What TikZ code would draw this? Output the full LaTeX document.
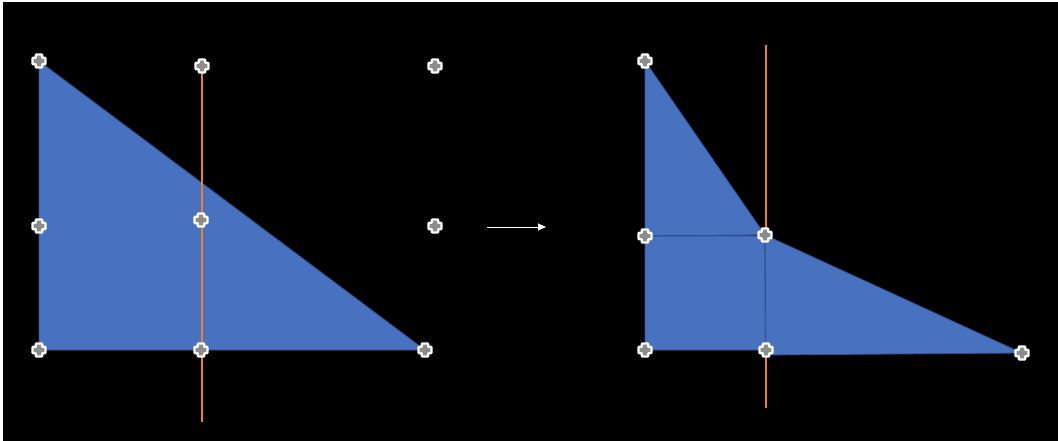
\documentclass[tikz,border=0pt]{standalone}
\usetikzlibrary{arrows.meta}
\definecolor{shapeblue}{RGB}{72,114,192}
\definecolor{edgeblue}{RGB}{47,82,143}
\definecolor{guideor}{RGB}{237,125,49}
\definecolor{handlegray}{RGB}{140,140,140}

\begin{document}
\begin{tikzpicture}[
  x=1pt, y=-1pt,
  >={Triangle[length=8pt, width=7pt]},
  piece/.style={fill=shapeblue, draw=edgeblue, line width=0.8pt, line join=miter},
  guide/.style={draw=guideor, line width=1.1pt},
  move/.style={->, draw=white, line width=1pt},
  handle/.pic={
    \path[fill=handlegray, draw=white, line width=2.2pt, rounded corners=0.6pt]
      (-3.2,-6.5) -- (3.2,-6.5) -- (3.2,-3.2) -- (6.5,-3.2) -- (6.5,3.2)
      -- (3.2,3.2) -- (3.2,6.5) -- (-3.2,6.5) -- (-3.2,3.2) -- (-6.5,3.2)
      -- (-6.5,-3.2) -- (-3.2,-3.2) -- cycle;
  },
]
% ---- canvas ----
\fill[white] (0,0) rectangle (1058,441);
\fill[black] (3,2) rectangle (1058,441);
\useasboundingbox (0,0) rectangle (1058,441);

% ---- points before ----
\coordinate (a1) at (39,61);
\coordinate (a2) at (202,66);
\coordinate (a3) at (435,66);
\coordinate (b1) at (39,226);
\coordinate (b2) at (201,220);
\coordinate (b3) at (435,226);
\coordinate (c1) at (39,350);
\coordinate (c2) at (201,350);
\coordinate (c3) at (425,350);
\coordinate (gtop) at (202,65);
\coordinate (gbot) at (202,422);

% ---- points after ----
\coordinate (p1) at (645,61);
\coordinate (q1) at (645,236);
\coordinate (q2) at (765,235);
\coordinate (r1) at (645,350);
\coordinate (r2) at (766,350);
\coordinate (r3) at (766,355);
\coordinate (s3) at (1022,353);
\coordinate (htop) at (766,45);
\coordinate (hbot) at (766,408);

% ---- left: original triangle ----
\path[piece] (a1) -- (c3) -- (c1) -- cycle;
\draw[guide] (gtop) -- (gbot);

% ---- arrow ----
\coordinate (mfrom) at (487,227);
\coordinate (mto) at (546,227);
\draw[move] (mfrom) -- (mto);

% ---- right: split pieces ----
\draw[guide] (htop) -- (hbot);
\path[piece] (p1) -- (q2) -- (q1) -- cycle;
\path[piece] (q1) -- (q2 |- q1) -- (r2) -- (r1) -- cycle;
\path[piece] (q2) -- (s3) -- (r3) -- (q2 |- r2) -- cycle;
\draw[edgeblue, line width=0.8pt] (q1) -- (q2);
\draw[edgeblue, line width=0.8pt] (q2) -- (r2);

% ---- handles ----
\foreach \h in {a1,a2,a3,b1,b2,b3,c1,c2,c3,p1,q1,q2,r1,r2,s3}
  \pic at (\h) {handle};
\end{tikzpicture}
\end{document}
